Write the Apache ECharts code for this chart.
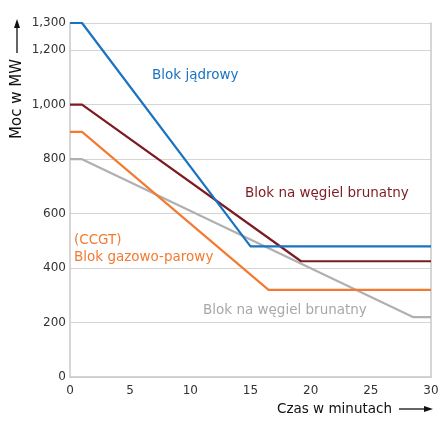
<!DOCTYPE html>
<html>
<head>
<meta charset="utf-8">
<script src="https://cdn.jsdelivr.net/npm/echarts@6/dist/echarts.min.js"></script>
<style>
html,body{margin:0;padding:0;background:#fff;}
#c{width:448px;height:426px;}
</style>
</head>
<body>
<div id="c"></div>
<script>
// Data (minutes, MW)
var nuclear = [[0,1300],[1,1300],[15,480],[30,480]];
var lignite1 = [[0,1000],[1,1000],[19.2,425],[30,425]];
var ccgt = [[0,900],[1,900],[16.5,320],[30,320]];
var lignite2 = [[0,800],[1,800],[28.5,220],[30,220]];
var xTicks = [0,5,10,15,20,25,30];
var yLabels = ['0','200','400','600','800','1,000','1,200','1,300'];
var seriesNames = ['Blok jądrowy','Blok na węgiel brunatny','Blok gazowo-parowy','Blok na węgiel brunatny'];
var ccgtNote = '(CCGT)';
var xTitle = 'Czas w minutach';
var yTitle = 'Moc w MW';

var FONT = 'DejaVu Sans';
var chart = echarts.init(document.getElementById('c'));
function fmt(v){ return v.toLocaleString('en-US'); }
function line(name, data, color){
  return {name:name, type:'line', data:data, symbol:'none', lineStyle:{width:2.2,color:color}, itemStyle:{color:color}, z:3};
}
chart.setOption({
  animation:false,
  textStyle:{fontFamily:FONT},
  grid:{left:70,right:17,top:23,bottom:49,containLabel:false},
  xAxis:{type:'value',min:0,max:30,interval:5,
    axisLine:{show:true,lineStyle:{color:'#c8c8c8',width:1.5}},
    axisTick:{show:false},
    splitLine:{show:false},
    axisLabel:{color:'#333',fontSize:12,fontFamily:FONT,margin:8}
  },
  yAxis:[{type:'value',min:0,max:1300,interval:200,
    axisLine:{show:true,lineStyle:{color:'#c8c8c8',width:1.5}},
    axisTick:{show:false},
    splitLine:{show:true,lineStyle:{color:'#d4d4d4',width:1.2}},
    axisLabel:{color:'#333',fontSize:12,fontFamily:FONT,margin:4,
      formatter:function(v){ return fmt(v); }}
  },{type:'value',min:0,max:1300,position:'right',
    axisLine:{show:true,lineStyle:{color:'#c8c8c8',width:1.5}},
    axisTick:{show:false},axisLabel:{show:false},splitLine:{show:false}
  }],
  series:[
    line(seriesNames[3], lignite2, '#b0b0b0'),
    line(seriesNames[2], ccgt, '#f47a32'),
    line(seriesNames[1], lignite1, '#7d1b22'),
    line(seriesNames[0], nuclear, '#1a73c1')
  ],
  graphic:[
    {type:'text',x:17,y:99,rotation:Math.PI/2,style:{text:yTitle,fontFamily:FONT,fontSize:15,fill:'#111',align:'center',verticalAlign:'middle'}},
    {type:'line',shape:{x1:17,y1:53,x2:17,y2:26},style:{stroke:'#111',lineWidth:1.3}},
    {type:'polygon',shape:{points:[[17,19],[14,28],[20,28]]},style:{fill:'#111'}},
    {type:'text',x:392,y:409,style:{text:xTitle,fontFamily:FONT,fontSize:13.5,fill:'#111',align:'right',verticalAlign:'middle'}},
    {type:'line',shape:{x1:399,y1:409,x2:426,y2:409},style:{stroke:'#111',lineWidth:1.3}},
    {type:'polygon',shape:{points:[[433,409],[424,406],[424,412]]},style:{fill:'#111'}},
    {type:'text',x:152,y:75,style:{text:seriesNames[0],fontFamily:FONT,fontSize:13.5,fill:'#1a73c1',verticalAlign:'middle'}},
    {type:'text',x:245,y:193,style:{text:seriesNames[1],fontFamily:FONT,fontSize:13.5,fill:'#7d1b22',verticalAlign:'middle'}},
    {type:'text',x:74,y:240,style:{text:ccgtNote,fontFamily:FONT,fontSize:13.5,fill:'#f47a32',verticalAlign:'middle'}},
    {type:'text',x:74,y:257,style:{text:seriesNames[2],fontFamily:FONT,fontSize:13.5,fill:'#f47a32',verticalAlign:'middle'}},
    {type:'text',x:203,y:310,style:{text:seriesNames[3],fontFamily:FONT,fontSize:13.5,fill:'#a8a8a8',verticalAlign:'middle'}}
  ]
});
</script>
</body>
</html>
